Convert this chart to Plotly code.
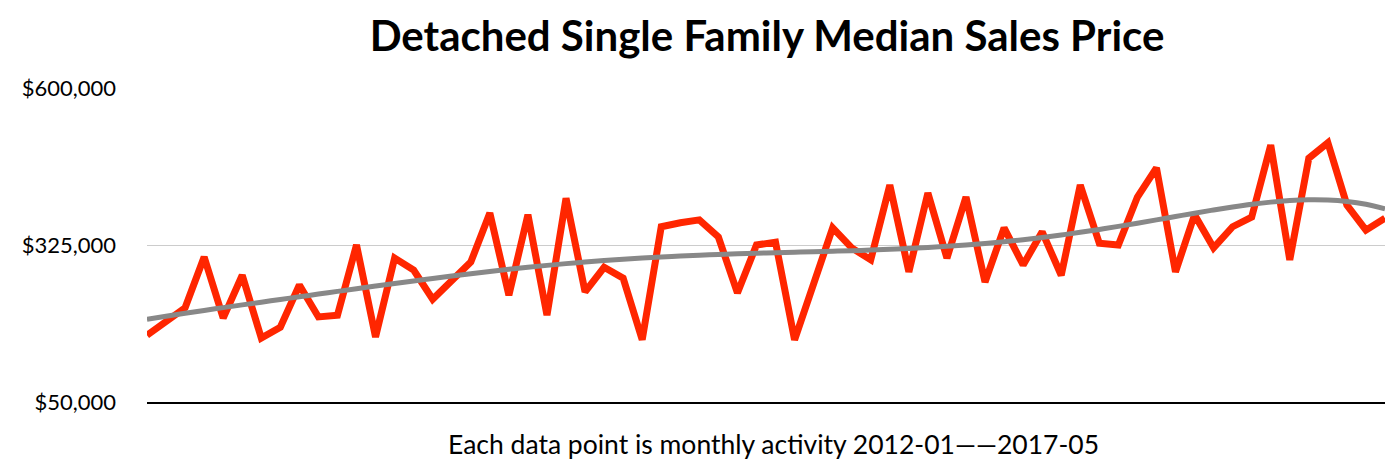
import numpy as np
import plotly.graph_objects as go

# Monthly median sales price (66 monthly points)
month_index = list(range(66))
median_price = [
    167000, 190000, 215000, 304000, 197000, 272000, 162000, 181000, 255000, 199000,
    202000, 325000, 164000, 302000, 281000, 230000, 264000, 295000, 381000, 237000,
    378000, 202000, 407000, 243000, 286000, 267000, 159000, 357000, 364000, 369000,
    339000, 241000, 325000, 330000, 159000, 257000, 355000, 320000, 299000, 430000,
    278000, 416000, 302000, 409000, 260000, 355000, 290000, 348000, 272000, 430000,
    328000, 325000, 409000, 460000, 278000, 378000, 320000, 357000, 374000, 500000,
    299000, 477000, 504000, 395000, 351000, 372000,
]

y_tick_vals = [50000, 325000, 600000]
y_tick_text = ["$50,000", "$325,000", "$600,000"]

title_text = "Detached Single Family Median Sales Price"
x_caption = "Each data point is monthly activity 2012-01\u2014\u20142017-05"

# Polynomial trendline fitted to the data
coef = np.polyfit(month_index, median_price, 6)
trend = np.polyval(coef, month_index)

FONT = "Lato, 'Open Sans', sans-serif"

fig = go.Figure()
fig.add_trace(go.Scatter(
    x=month_index, y=median_price, mode="lines",
    line=dict(color="#FF2600", width=7), hoverinfo="skip", showlegend=False,
))
fig.add_trace(go.Scatter(
    x=month_index, y=trend, mode="lines",
    line=dict(color="#888888", width=5, shape="spline"), hoverinfo="skip", showlegend=False,
))

fig.update_layout(
    width=1394, height=465,
    margin=dict(l=147, r=9, t=88, b=63),
    paper_bgcolor="white", plot_bgcolor="white",
    font=dict(family=FONT, color="black"),
    title=dict(text="<b>" + title_text + "</b>", x=767 / 1394, xanchor="center",
               yref="container", y=1 - 36 / 465, yanchor="middle",
               font=dict(size=42, family=FONT, color="black")),
    xaxis=dict(range=[0, 65], showgrid=False, zeroline=False, showticklabels=False,
               showline=True, linecolor="black", linewidth=2, ticks=""),
    yaxis=dict(range=[50000, 600000], tickvals=y_tick_vals, ticktext=y_tick_text,
               showgrid=True, gridcolor="#cccccc", gridwidth=1, zeroline=False,
               showline=False, ticks="", ticklabelstandoff=30, automargin=False,
               tickfont=dict(size=22, family=FONT, color="black")),
    annotations=[dict(text=x_caption, xref="paper", yref="paper",
                      x=(773 - 147) / 1238, y=-(444 - 402) / 314,
                      xanchor="center", yanchor="middle", showarrow=False,
                      font=dict(size=26.5, family=FONT, color="black"))],
)

fig.write_html("out.html", config={"displayModeBar": False},
               post_script="document.body.style.margin='0';document.body.style.padding='0';")
